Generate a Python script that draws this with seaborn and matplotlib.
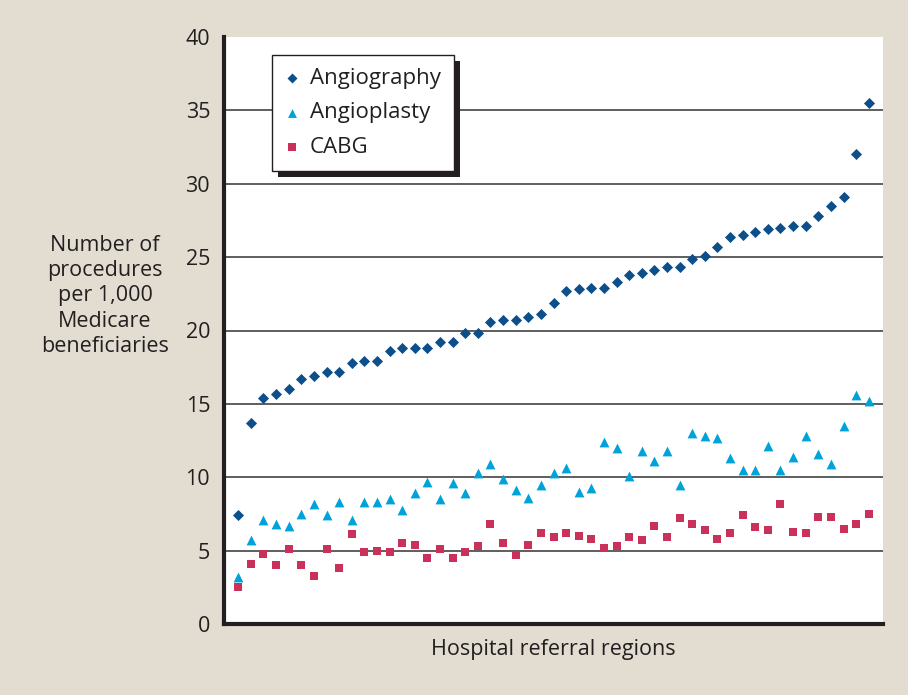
import matplotlib
matplotlib.use("Agg")
import matplotlib.pyplot as plt
import matplotlib.patches as mpatches
import numpy as np
import pandas as pd
import seaborn as sns

# values, regions sorted by angiography rate
angiography = [7.4, 13.7, 15.4, 15.7, 16.0, 16.7, 16.9, 17.2, 17.2, 17.8, 17.9, 17.9,
               18.6, 18.8, 18.8, 18.8, 19.2, 19.2, 19.8, 19.8, 20.6, 20.7, 20.7, 20.9,
               21.1, 21.9, 22.7, 22.8, 22.9, 22.9, 23.3, 23.8, 23.9, 24.1, 24.3, 24.3,
               24.9, 25.1, 25.7, 26.4, 26.5, 26.7, 26.9, 27.0, 27.1, 27.1, 27.8, 28.5,
               29.1, 32.0, 35.5]
angioplasty = [3.2, 5.7, 7.1, 6.8, 6.7, 7.5, 8.2, 7.4, 8.3, 7.1, 8.3, 8.3,
               8.5, 7.8, 8.9, 9.7, 8.5, 9.6, 8.9, 10.3, 10.9, 9.9, 9.1, 8.6,
               9.5, 10.3, 10.6, 9.0, 9.3, 12.4, 12.0, 10.1, 11.8, 11.1, 11.8, 9.5,
               13.0, 12.8, 12.7, 11.3, 10.5, 10.5, 12.1, 10.5, 11.4, 12.8, 11.6, 10.9,
               13.5, 15.6, 15.2]
cabg = [2.5, 4.1, 4.8, 4.0, 5.1, 4.0, 3.3, 5.1, 3.8, 6.1, 4.9, 5.0,
        4.9, 5.5, 5.4, 4.5, 5.1, 4.5, 4.9, 5.3, 6.8, 5.5, 4.7, 5.4,
        6.2, 5.9, 6.2, 6.0, 5.8, 5.2, 5.3, 5.9, 5.7, 6.7, 5.9, 7.2,
        6.8, 6.4, 5.8, 6.2, 7.4, 6.6, 6.4, 8.2, 6.3, 6.2, 7.3, 7.3,
        6.5, 6.8, 7.5]
regions = np.arange(len(angiography))
y_ticks = [0, 5, 10, 15, 20, 25, 30, 35, 40]

bg = "#e3ddd1"
ink = "#231f20"
colors = {"Angiography": "#0d4f8b", "Angioplasty": "#00a3d9", "CABG": "#c9315a"}
markers = {"Angiography": "D", "Angioplasty": "^", "CABG": "s"}
sizes = {"Angiography": 32, "Angioplasty": 50, "CABG": 40}
fs = 15.5

sns.set_style("white")
plt.rcParams["font.family"] = ["Open Sans", "DejaVu Sans"]

fig = plt.figure(figsize=(9.08, 6.95), dpi=100, facecolor=bg)
ax = fig.add_axes([224 / 908, 1 - 624 / 695, 659 / 908, 587 / 695])
ax.set_facecolor("white")

series = {"Angiography": angiography, "Angioplasty": angioplasty, "CABG": cabg}
for name, vals in series.items():
    df = pd.DataFrame({"region": regions, "rate": vals})
    sns.scatterplot(data=df, x="region", y="rate", ax=ax, marker=markers[name],
                    color=colors[name], s=sizes[name], linewidth=0, label=name,
                    zorder=3)

ax.set_xlim(-1.13, len(regions) - 1 + 1.13)
ax.set_ylim(0, 40)
ax.set_yticks(y_ticks)
ax.set_xticks([])
ax.tick_params(axis="y", length=0, pad=10, labelsize=fs, labelcolor=ink)
for v in y_ticks[1:-1]:
    ax.axhline(v, color="#333333", lw=1.1, zorder=1)

for side in ["top", "right"]:
    ax.spines[side].set_visible(False)
for side in ["left", "bottom"]:
    ax.spines[side].set_color(ink)
    ax.spines[side].set_linewidth(3)

ax.set_xlabel("Hospital referral regions", fontsize=fs, color=ink, labelpad=11)
ax.set_ylabel("")
fig.text(105 / 908, 1 - 296 / 695,
         "Number of\nprocedures\nper 1,000\nMedicare\nbeneficiaries",
         ha="center", va="center", fontsize=fs, color=ink, linespacing=1.26)

leg = ax.legend(loc="upper left", bbox_to_anchor=(0.0728, 0.9699), borderaxespad=0,
                frameon=True, fancybox=False, edgecolor=ink, facecolor="white",
                framealpha=1, fontsize=16, markerscale=0.9, handletextpad=0.5,
                labelspacing=0.6, borderpad=0.6, handlelength=0.6)
leg.get_frame().set_linewidth(1.0)
leg.set_zorder(5)
for t in leg.get_texts():
    t.set_color(ink)

# drop shadow behind the legend box
fig.canvas.draw()
bb = leg.get_window_extent()
shadow = mpatches.Rectangle((bb.x0 + 6, bb.y0 - 6), bb.width, bb.height,
                            transform=None, facecolor=ink, edgecolor="none",
                            zorder=4)
ax.add_artist(shadow)

fig.savefig("out.png", dpi=100, facecolor=bg)
